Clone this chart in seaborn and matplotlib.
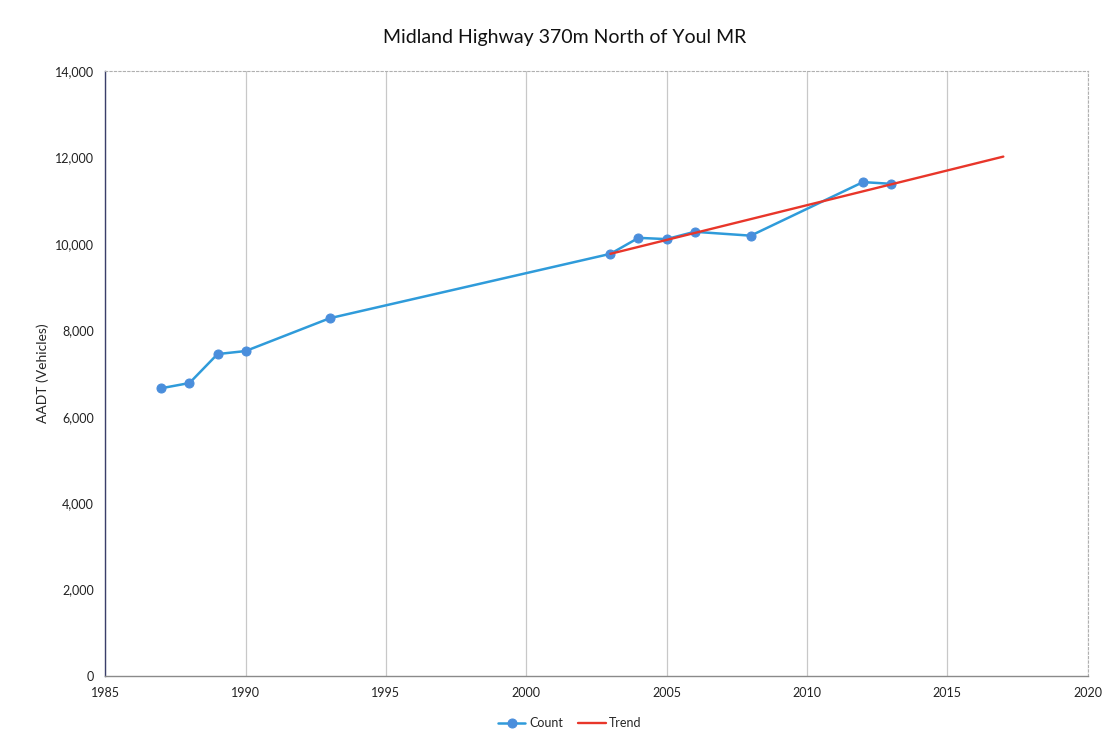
import matplotlib
matplotlib.use("Agg")
import matplotlib.pyplot as plt
import seaborn as sns
import pandas as pd

# Traffic counts (AADT) by year
years = [1987, 1988, 1989, 1990, 1993, 2003, 2004, 2005, 2006, 2008, 2012, 2013]
counts = [6660, 6780, 7450, 7520, 8280, 9770, 10140, 10110, 10280, 10190, 11430, 11390]

# Linear trend line endpoints
trend_years = [2003, 2017]
trend_values = [9770, 12020]

x_ticks = [1985, 1990, 1995, 2000, 2005, 2010, 2015, 2020]
y_ticks = [0, 2000, 4000, 6000, 8000, 10000, 12000, 14000]

sns.set_style("white")
plt.rcParams["font.family"] = ["Lato", "DejaVu Sans"]

count_df = pd.DataFrame({"Year": years, "AADT": counts})
trend_df = pd.DataFrame({"Year": trend_years, "AADT": trend_values})

fig = plt.figure(figsize=(11.2, 7.4), dpi=100)
ax = fig.add_axes([0.094, 0.0865, 0.877, 0.8175])

sns.lineplot(data=count_df, x="Year", y="AADT", ax=ax, color="#2F9BDA",
             linewidth=1.8, marker="o", markersize=6.5,
             markerfacecolor="#4A8EDC", markeredgecolor="#4A8EDC",
             label="Count")
sns.lineplot(data=trend_df, x="Year", y="AADT", ax=ax, color="#E8362A",
             linewidth=1.7, label="Trend")

ax.set_xlim(1985, 2020)
ax.set_ylim(0, 14000)
ax.set_xticks(x_ticks)
ax.set_yticks(y_ticks)
ax.set_yticklabels([f"{v:,}" for v in y_ticks])
ax.tick_params(axis="both", labelsize=9, length=0, pad=8, colors="#222222")

ax.xaxis.grid(True, color="#c8c8c8", linewidth=0.9)
ax.yaxis.grid(False)

for side in ["top", "right"]:
    ax.spines[side].set_color("#b0b0b0")
    ax.spines[side].set_linestyle((0, (2, 2)))
    ax.spines[side].set_linewidth(0.8)
ax.spines["left"].set_color("#3a3f6a")
ax.spines["left"].set_linewidth(1.0)
ax.spines["bottom"].set_color("#8a8a8a")
ax.spines["bottom"].set_linewidth(1.0)

ax.set_xlabel("")
ax.set_ylabel("AADT (Vehicles)", fontsize=10, labelpad=4)

fig.text(0.504, 0.949, "Midland Highway 370m North of Youl MR",
         fontsize=14, ha="center", va="center", color="#111111")

ax.legend(loc="upper center", bbox_to_anchor=(0.473, -0.05), ncol=2,
          frameon=False, fontsize=9, handlelength=2.2, columnspacing=1.2,
          handletextpad=0.3)

fig.savefig("out.png", dpi=100)
